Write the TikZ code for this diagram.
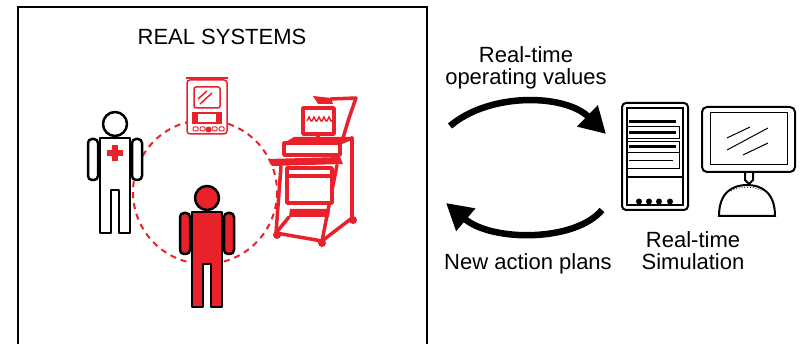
\documentclass[tikz,border=0pt]{standalone}
\usepackage{fontspec}
\setmainfont{Liberation Sans}
\usepackage{tikz}
\usetikzlibrary{arrows.meta}

\definecolor{alarm}{HTML}{E8212B}

\tikzset{
  label/.style={font=\fontsize{22}{22}\selectfont, inner sep=0pt, align=center, anchor=base},
  flow/.style={line width=6.5pt, -{Triangle[length=26pt,width=28pt]}},
  outline/.style={line width=2.5pt, line join=round},
  cart/.style={alarm, line width=3.5pt, line join=round, line cap=round},
  pda/.style={alarm, line width=1.5pt},
  hw/.style={line width=2pt},
  person/.pic={
    % body with a gap between the legs, then arms and head
    \draw[outline, pic actions] (-15,14) -- (15,14) -- (15,109) -- (4,109) -- (4,66)
      -- (-4,66) -- (-4,109) -- (-15,109) -- cycle;
    \draw[outline, pic actions, rounded corners=4pt] (-27,15) rectangle (-17,56);
    \draw[outline, pic actions, rounded corners=4pt] (17,15) rectangle (27,56);
    \draw[outline, pic actions] (0,0) circle (12);
  }
}

\begin{document}
\begin{tikzpicture}[x=1pt, y=-1pt]
\useasboundingbox (0,0) rectangle (800,344);

% frame of the real systems
\draw[line width=2pt] (18,350) -- (18,7) -- (427,7) -- (427,350);
\node[label] (real) at (222,45) {REAL SYSTEMS};

% dashed loop between the people and the devices
\draw[alarm, line width=2pt, dash pattern=on 6pt off 5pt] (205,192) circle (72);

% handheld device
\draw[pda, fill=white, rounded corners=3pt] (187,80) rectangle (227,134);
\draw[pda] (186,78) -- (228,78);
\draw[pda, rounded corners=2pt] (194,87) rectangle (220,108);
\draw[pda] (198,99) -- (207,91);
\draw[pda] (200,104) -- (212,93);
\fill[alarm] (192,112) rectangle (197,124);
\fill[alarm] (217,112) rectangle (222,124);
\draw[pda] (197,113) rectangle (217,123);
\foreach \bx in {193,200,212,219}
  \draw[pda, line width=1pt, rounded corners=1pt] (\bx,127) rectangle ++(5,4);
\fill[alarm] (208.5,129.5) circle (3);

% monitoring cart
\fill[alarm] (313,96) -- (331,98) -- (333,104) -- (318,104) -- cycle;
\draw[cart] (331,99) -- (356,98) -- (349,118) -- (343,138);
\draw[cart, fill=white] (303,108) rectangle (334,134);
\draw[alarm, line width=1.5pt] (307,121)
  \foreach \w in {0,...,4} { -- ++(2,-4) -- ++(2,4) -- ++(1,0) };
\draw[cart] (318,134) -- (318,139);
\fill[alarm] (284,143) -- (294,137) -- (352,137) -- (340,143) -- cycle;
\draw[cart, fill=white] (284,143) rectangle (340,155);
\fill[alarm] (268,159) -- (340,157) -- (343,164) -- (272,166) -- cycle;
\draw[cart] (352,138) -- (352,218);
\draw[cart] (340,143) -- (352,138);
\draw[cart] (281,166) -- (276,233);
\draw[cart] (337,165) -- (322,241);
\draw[cart, fill=white] (287,168) rectangle (332,203);
\draw[cart] (287,176) -- (332,176);
\fill[alarm] (290,209) -- (330,209) -- (329,217) -- (289,217) -- cycle;
\draw[cart] (276,233) -- (322,241) -- (352,218);
\draw[cart] (276,233) -- (289,217);
\foreach \wx/\wy in {277/235, 322/243, 353/220}
  \fill[alarm] (\wx,\wy) circle (4);

% the people
\pic[fill=white] at (115,124) {person};
\fill[alarm] (115,153) +(-8,-2.75) rectangle +(8,2.75);
\fill[alarm] (115,153) +(-2.75,-8) rectangle +(2.75,8);
\pic[fill=alarm] at (207,198) {person};

% exchange between the systems and the simulation
\coordinate (valuesfrom) at (450,126);
\coordinate (valuesto) at (606,134);
\coordinate (plansfrom) at (602,210);
\coordinate (plansto) at (446,203);
\draw[flow] (valuesfrom) .. controls (490,92) and (565,94) .. (valuesto);
\draw[flow] (plansfrom) .. controls (575,242) and (492,242) .. (plansto);
\node[label] (values) at (526,85) {Real-time\\operating values};
\node[label] (plans) at (528,270) {New action plans};

% tower
\draw[hw, rounded corners=4pt] (622,103) rectangle (688,210);
\draw[line width=1.5pt] (627,108) rectangle (683,205);
\draw[line width=3pt] (629,122) -- (676,122);
\draw[line width=1pt] (627,127) rectangle (679,139);
\draw[line width=3pt] (629,133) -- (676,133);
\draw[line width=1pt] (627,142) rectangle (679,153);
\draw[line width=3pt] (629,147) -- (676,147);
\draw[line width=1pt] (627,153) rectangle (679,169);
\draw[line width=1pt] (629,161) -- (673,161);
\draw[line width=1.5pt] (627,177) -- (683,177);
\foreach \dx in {639,649,659,670}
  \fill (\dx,201.5) circle (3);

% screen on its stand
\draw[hw, rounded corners=5pt] (702,107) rectangle (795,172);
\draw[line width=1pt] (710,113) rectangle (787,165);
\draw[line width=1pt] (727,138) -- (750,127);
\draw[line width=1pt] (727,150) -- (768,128);
\draw[line width=1pt] (743,155) -- (768,143);
\draw[hw] (745,172) -- (745,180) -- (749,184) -- (753,180) -- (753,172);
\draw[hw] (719,216) .. controls (719,192) and (733,185) .. (747,185)
  .. controls (761,185) and (775,192) .. (775,216) -- cycle;
\draw[line width=0.8pt, dotted] (731,191) .. controls (740,186) and (754,186) .. (763,191);
\node[label] (sim) at (693,270) {Real-time\\Simulation};
\end{tikzpicture}
\end{document}
